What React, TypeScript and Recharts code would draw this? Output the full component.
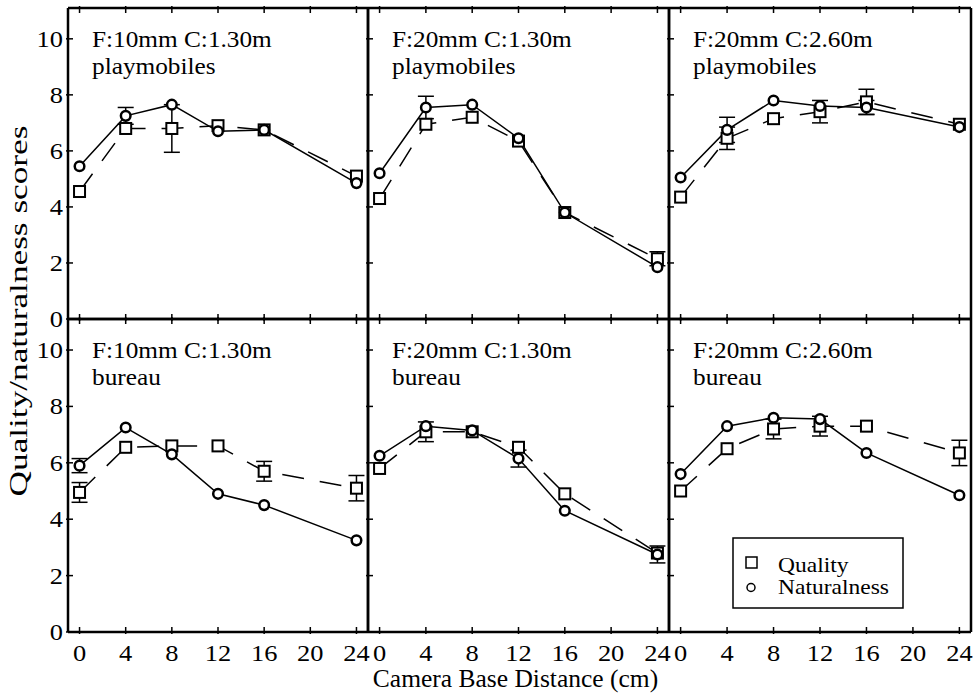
import React from 'react'
import { LineChart, Line, XAxis, YAxis, ErrorBar } from 'recharts'

const distances = [0, 4, 8, 12, 16, 24]
const xTicks = [0, 4, 8, 12, 16, 20, 24]
const yTicks = [0, 2, 4, 6, 8, 10]

// F:10mm C:1.30m playmobiles
const qPlay10 = [4.55, 6.8, 6.8, 6.9, 6.75, 5.1]
const qErrPlay10 = [0, 0, 0.85, 0, 0, 0]
const nPlay10 = [5.45, 7.25, 7.65, 6.7, 6.75, 4.85]
const nErrPlay10 = [0, 0.3, 0, 0, 0, 0]

// F:20mm C:1.30m playmobiles
const qPlay20 = [4.3, 6.95, 7.2, 6.35, 3.8, 2.15]
const qErrPlay20 = [0, 0, 0, 0, 0, 0.25]
const nPlay20 = [5.2, 7.55, 7.65, 6.45, 3.8, 1.85]
const nErrPlay20 = [0, 0.4, 0, 0, 0, 0]

// F:20mm C:2.60m playmobiles
const qPlay20far = [4.35, 6.45, 7.15, 7.4, 7.75, 6.95]
const qErrPlay20far = [0, 0.4, 0, 0.4, 0.45, 0]
const nPlay20far = [5.05, 6.75, 7.8, 7.6, 7.55, 6.85]
const nErrPlay20far = [0, 0.45, 0, 0, 0.25, 0]

// F:10mm C:1.30m bureau
const qBur10 = [4.95, 6.55, 6.6, 6.6, 5.7, 5.1]
const qErrBur10 = [0.35, 0, 0, 0, 0.35, 0.45]
const nBur10 = [5.9, 7.25, 6.3, 4.9, 4.5, 3.25]
const nErrBur10 = [0.25, 0, 0, 0, 0, 0]

// F:20mm C:1.30m bureau
const qBur20 = [5.8, 7.1, 7.1, 6.55, 4.9, 2.8]
const qErrBur20 = [0, 0.35, 0, 0, 0, 0]
const nBur20 = [6.25, 7.3, 7.15, 6.15, 4.3, 2.75]
const nErrBur20 = [0, 0, 0, 0.3, 0, 0.3]

// F:20mm C:2.60m bureau
const qBur20far = [5.0, 6.5, 7.2, 7.3, 7.3, 6.35]
const qErrBur20far = [0, 0, 0.35, 0.35, 0, 0.45]
const nBur20far = [5.6, 7.3, 7.6, 7.55, 6.35, 4.85]
const nErrBur20far = [0, 0, 0, 0, 0, 0]

const panels = [
  { title: 'F:10mm C:1.30m', scene: 'playmobiles', q: qPlay10, qe: qErrPlay10, n: nPlay10, ne: nErrPlay10 },
  { title: 'F:20mm C:1.30m', scene: 'playmobiles', q: qPlay20, qe: qErrPlay20, n: nPlay20, ne: nErrPlay20 },
  { title: 'F:20mm C:2.60m', scene: 'playmobiles', q: qPlay20far, qe: qErrPlay20far, n: nPlay20far, ne: nErrPlay20far },
  { title: 'F:10mm C:1.30m', scene: 'bureau', q: qBur10, qe: qErrBur10, n: nBur10, ne: nErrBur10 },
  { title: 'F:20mm C:1.30m', scene: 'bureau', q: qBur20, qe: qErrBur20, n: nBur20, ne: nErrBur20 },
  { title: 'F:20mm C:2.60m', scene: 'bureau', q: qBur20far, qe: qErrBur20far, n: nBur20far, ne: nErrBur20far },
]

const SERIF = 'Liberation Serif'
const colX = [68, 368, 669]
const colW = [300, 301, 302]
const rowY = [8, 319]
const rowH = [311, 313]
// axes are 1px thick/wide, so the plot box sits 1px further in than the margin
const M = { top: 9, right: 3, bottom: 39, left: 44 }
const AXIS = { stroke: '#000', strokeWidth: 2.5 }

const squareDot = (p: any) => {
  if (p.cx == null || p.cy == null) return <g key={p.index} />
  return (
    <rect
      key={p.index}
      x={p.cx - 5.5}
      y={p.cy - 5.5}
      width={11}
      height={11}
      fill="#fff"
      stroke="#000"
      strokeWidth={2}
      strokeDasharray="none"
    />
  )
}

const circleDot = (p: any) => {
  if (p.cx == null || p.cy == null) return <g key={p.index} />
  return (
    <circle
      key={p.index}
      cx={p.cx}
      cy={p.cy}
      r={4.8}
      fill="#fff"
      stroke="#000"
      strokeWidth={2.5}
      strokeDasharray="none"
    />
  )
}

function xTick(side: 'top' | 'bottom', label: boolean) {
  return (p: any) => {
    const { x, y, payload } = p
    const inward = side === 'bottom' ? -1 : 1
    return (
      <g>
        <line x1={x} x2={x} y1={y - inward * 2} y2={y + inward * 5} stroke="#000" strokeWidth={1.5} />
        {label && (
          <text
            transform={`translate(${x},${y + 29}) scale(1.15,1)`}
            textAnchor="middle"
            fontSize={23}
            fontFamily={SERIF}
            fill="#000"
          >
            {payload.value}
          </text>
        )}
      </g>
    )
  }
}

function yTick(side: 'left' | 'right', label: boolean) {
  return (p: any) => {
    const { x, y, payload } = p
    const inward = side === 'left' ? 1 : -1
    return (
      <g>
        <line x1={x - inward * 2} x2={x + inward * 5} y1={y} y2={y} stroke="#000" strokeWidth={1.5} />
        {label && (
          <text
            transform={`translate(${x - 5},${y + 8}) scale(1.15,1)`}
            textAnchor="end"
            fontSize={23}
            fontFamily={SERIF}
            fill="#000"
          >
            {payload.value}
          </text>
        )}
      </g>
    )
  }
}

function Panel({ index }: { index: number }) {
  const p = panels[index]
  const col = index % 3
  const row = Math.floor(index / 3)
  const w = colW[col]
  const h = rowH[row]
  const data = distances.map((d, i) => ({ x: d, q: p.q[i], qe: p.qe[i], n: p.n[i], ne: p.ne[i] }))

  return (
    <div style={{ position: 'absolute', left: colX[col] - M.left - 1, top: rowY[row] - M.top - 1 }}>
      <LineChart width={w + M.left + M.right + 2} height={h + M.top + M.bottom + 2} data={data} margin={M}>
        <XAxis
          xAxisId="b"
          dataKey="x"
          type="number"
          domain={[-1, 25]}
          ticks={xTicks}
          interval={0}
          height={1}
          tickSize={0}
          tickMargin={0}
          tickLine={false}
          axisLine={AXIS}
          tick={xTick('bottom', row === 1)}
        />
        <XAxis
          xAxisId="t"
          orientation="top"
          dataKey="x"
          type="number"
          domain={[-1, 25]}
          ticks={xTicks}
          interval={0}
          height={1}
          tickSize={0}
          tickMargin={0}
          tickLine={false}
          axisLine={AXIS}
          tick={xTick('top', false)}
        />
        <YAxis
          yAxisId="l"
          type="number"
          domain={[0, 11.1]}
          ticks={yTicks}
          interval={0}
          width={1}
          tickSize={0}
          tickMargin={0}
          tickLine={false}
          axisLine={AXIS}
          tick={yTick('left', col === 0)}
        />
        <YAxis
          yAxisId="r"
          orientation="right"
          type="number"
          domain={[0, 11.1]}
          ticks={yTicks}
          interval={0}
          width={1}
          tickSize={0}
          tickMargin={0}
          tickLine={false}
          axisLine={AXIS}
          tick={yTick('right', false)}
        />
        <Line
          xAxisId="b"
          yAxisId="l"
          dataKey="q"
          stroke="#000"
          strokeWidth={1.5}
          strokeDasharray="22 16"
          dot={squareDot}
          isAnimationActive={false}
        >
          <ErrorBar dataKey="qe" width={8} stroke="#000" strokeWidth={1.5} />
        </Line>
        <Line
          xAxisId="b"
          yAxisId="l"
          dataKey="n"
          stroke="#000"
          strokeWidth={1.5}
          dot={circleDot}
          isAnimationActive={false}
        >
          <ErrorBar dataKey="ne" width={8} stroke="#000" strokeWidth={1.5} />
        </Line>
      </LineChart>
    </div>
  )
}

export default function App() {
  return (
    <div
      style={{
        position: 'fixed',
        left: 0,
        top: 0,
        width: 976,
        height: 698,
        background: '#fff',
        overflow: 'hidden',
      }}
    >
      {panels.map((_, i) => (
        <Panel key={i} index={i} />
      ))}
      <svg
        width={976}
        height={698}
        style={{ position: 'absolute', left: 0, top: 0, pointerEvents: 'none' }}
      >
        {panels.map((p, i) => {
          const x = colX[i % 3] + 24
          const y = rowY[Math.floor(i / 3)]
          return (
            <g key={i}>
              <text transform={`translate(${x},${y + 39}) scale(1.1,1)`} fontSize={23} fontFamily={SERIF}>
                {p.title}
              </text>
              <text transform={`translate(${x},${y + 65.5}) scale(1.1,1)`} fontSize={23} fontFamily={SERIF}>
                {p.scene}
              </text>
            </g>
          )
        })}
        <text
          transform="translate(27,311) rotate(-90) scale(1.41,1)"
          textAnchor="middle"
          fontSize={25}
          fontFamily={SERIF}
        >
          Quality/naturalness scores
        </text>
        <text transform="translate(515.5,687) scale(1.02,1)" textAnchor="middle" fontSize={25} fontFamily={SERIF}>
          Camera Base Distance (cm)
        </text>
        <g>
          <rect x={733} y={538} width={170} height={70} fill="#fff" stroke="#000" strokeWidth={1.5} />
          <rect x={746} y={557} width={11} height={11} fill="none" stroke="#000" strokeWidth={1.5} />
          <circle cx={751} cy={587.5} r={4} fill="none" stroke="#000" strokeWidth={1.5} />
          <text transform="translate(778,571.5) scale(1.12,1)" fontSize={21} fontFamily={SERIF}>
            Quality
          </text>
          <text transform="translate(778,594) scale(1.12,1)" fontSize={21} fontFamily={SERIF}>
            Naturalness
          </text>
        </g>
      </svg>
    </div>
  )
}
